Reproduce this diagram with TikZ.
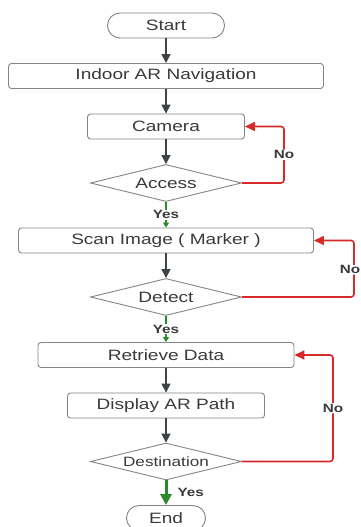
\documentclass[tikz,border=0pt]{standalone}
\usepackage{fontspec}
\setmainfont{Liberation Sans}[FakeStretch=1.27]
\usetikzlibrary{shapes.geometric,arrows.meta}
\definecolor{boxline}{HTML}{858585}
\definecolor{txt}{HTML}{3A3A3A}
\definecolor{arr}{HTML}{3E4347}
\definecolor{nored}{HTML}{D42A2A}
\definecolor{yesgreen}{HTML}{2A8A2A}
\begin{document}
\begin{tikzpicture}[x=1pt,y=-1pt,
  every node/.style={text=txt},
  procbox/.style={draw=boxline,line width=0.9pt,rounded corners=3pt,inner sep=0pt,
    minimum height=25pt,font=\fontsize{15}{18}\selectfont},
  termbox/.style={draw=boxline,line width=0.9pt,rounded corners=12.5pt,inner sep=0pt,
    minimum height=25pt,font=\fontsize{15}{18}\selectfont},
  decbox/.style={draw=boxline,line width=0.9pt,diamond,inner sep=0pt,shape aspect=4,
    minimum width=151pt,minimum height=37pt,font=\fontsize{15}{18}\selectfont},
  flow/.style={draw=arr,line width=1.6pt,-{Triangle[width=9pt,length=9pt]}},
  noflow/.style={draw=nored,line width=1.6pt,rounded corners=3pt,-{Triangle[width=9pt,length=10pt]}},
  yesflow/.style={draw=yesgreen,line width=1.2pt,-{Triangle[width=6pt,length=5pt]}},
  bigyes/.style={draw=yesgreen,line width=3pt,-{Triangle[width=11pt,length=11pt]}},
  lbl/.style={font=\fontsize{12}{14}\selectfont\bfseries,text=txt,fill=white,inner sep=1pt}
]
\useasboundingbox (0,0) rectangle (361,527);
\fill[white] (0,0) rectangle (361,527);

\node[termbox,minimum width=117pt] (start) at (166,25.5) {Start};
\node[procbox,minimum width=315pt] (indoor) at (166,76) {Indoor AR Navigation};
\node[procbox,minimum width=157pt] (camera) at (166,126.5) {Camera};
\node[decbox] (access) at (166,183) {Access};
\node[procbox,minimum width=295pt] (scan) at (166,240.5) {Scan Image ( Marker )};
\node[decbox] (detect) at (166,297) {Detect};
\node[procbox,minimum width=256pt] (retrieve) at (166,355) {Retrieve Data};
\node[procbox,minimum width=197pt] (display) at (166,405.5) {Display AR Path};
\node[decbox,font=\fontsize{13.5}{16}\selectfont] (dest) at (166,461.5) {Destination};
\node[termbox,minimum width=79pt] (end) at (166,518) {End};

\draw[flow] (start) -- (indoor);
\draw[flow] (indoor) -- (camera);
\draw[flow] (camera) -- (access);
\draw[flow] (scan) -- (detect);
\draw[flow] (retrieve) -- (display);
\draw[flow] (display) -- (dest);

\draw[yesflow] (access.south) -- node[lbl] {Yes} (scan.north);
\draw[yesflow] (detect.south) -- node[lbl] {Yes} (retrieve.north);
\draw[bigyes] (dest.south) -- node[lbl,right,xshift=9pt] {Yes} (end.north);

\draw[noflow] (access.east) -- (284,183) -- node[lbl,pos=0.5] {No} (284,126.5) -- (camera.east);
\draw[noflow] (detect.east) -- (354,297) -- node[lbl,pos=0.48,xshift=-4pt,inner sep=0.5pt] {No} (354,240.5) -- (scan.east);
\draw[noflow] (dest.east) -- (333,461.5) -- node[lbl,pos=0.5] {No} (333,355) -- (retrieve.east);
\end{tikzpicture}
\end{document}
